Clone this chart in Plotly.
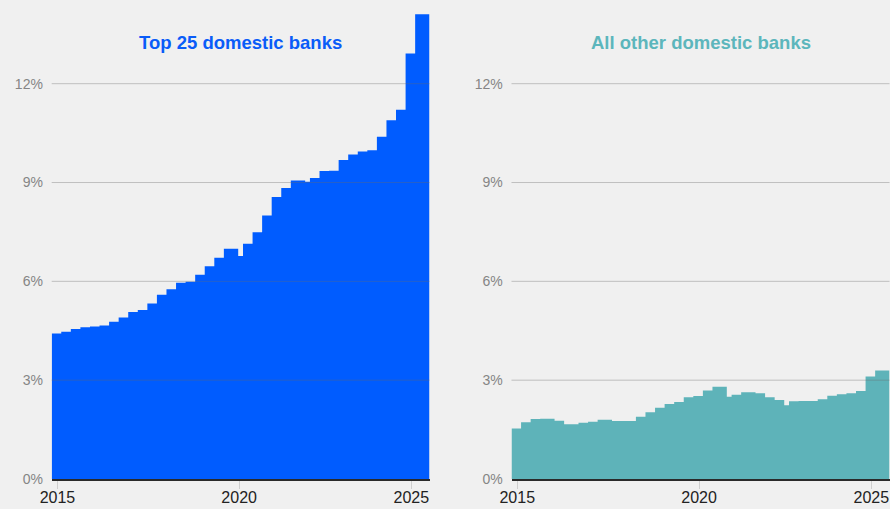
import plotly.graph_objects as go

# Step positions are in quarterly periods from the start of the series;
# each value holds until the next step begins.
top25_start = [0, 1, 2, 3, 4, 5, 6, 7, 8, 9, 10, 11, 12, 13, 14, 15, 16, 17, 18,
               19.5, 20, 21, 22, 23, 24, 25, 26.5, 27, 28, 29, 30, 31, 32, 33,
               34, 35, 36, 37, 38]
top25_value = [4.42, 4.47, 4.55, 4.61, 4.63, 4.66, 4.77, 4.90, 5.07, 5.13, 5.33,
               5.59, 5.76, 5.96, 5.99, 6.20, 6.46, 6.72, 6.99, 6.77, 7.14, 7.49,
               8.00, 8.56, 8.83, 9.06, 9.02, 9.14, 9.35, 9.36, 9.68, 9.85, 9.94,
               9.98, 10.39, 10.89, 11.21, 12.92, 14.11]

other_start = [0, 1, 2, 3, 4.5, 5.5, 7, 8, 9, 10.5, 13, 14, 15, 16, 17, 18, 19,
               20, 21, 22.5, 23, 24, 25.5, 26.5, 27.5, 28.5, 29, 30, 31, 32, 33,
               34, 35, 36, 37, 38]
other_value = [1.53, 1.72, 1.82, 1.83, 1.77, 1.66, 1.71, 1.74, 1.80, 1.76, 1.89,
               2.03, 2.16, 2.28, 2.34, 2.48, 2.52, 2.69, 2.80, 2.50, 2.56, 2.63,
               2.60, 2.48, 2.40, 2.24, 2.36, 2.37, 2.37, 2.42, 2.53, 2.57, 2.60,
               2.67, 3.11, 3.29]

series_end = 39.5

year_tick_pos = [0.6, 19.6, 37.6]
year_tick_text = ["2015", "2020", "2025"]

pct_ticks = [0, 3, 6, 9, 12]
pct_text = ["0%", "3%", "6%", "9%", "12%"]

panels = [
    ("Top 25 domestic banks", top25_start, top25_value, "#005CFF", "#0A5CF8"),
    ("All other domestic banks", other_start, other_value, "#5EB3B9", "#5CB6BC"),
]

W, H = 890, 509
BG = "#F0F0F0"
FONT = "Liberation Sans, Arial, sans-serif"

Y_MAX = 14.45
PX_PER_PCT = (479 - 83.7) / 12
x_domains = [[51.7 / W, 429.5 / W], [511.5 / W, 889.5 / W]]
y_domain = [(H - 479) / H, min(1.0, (H - 479 + Y_MAX * PX_PER_PCT) / H)]

fig = go.Figure()
shapes = []
annotations = []

for i, (title, xs, ys, fill, title_color) in enumerate(panels):
    n = "" if i == 0 else str(i + 1)
    fig.add_trace(go.Scatter(
        x=list(xs) + [series_end],
        y=list(ys) + [ys[-1]],
        mode="lines",
        line=dict(shape="hv", width=0, color=fill),
        fill="tozeroy",
        fillcolor=fill,
        hoverinfo="skip",
        showlegend=False,
        xaxis="x" + n,
        yaxis="y" + n,
    ))

    fig.update_layout(**{
        "xaxis" + n: dict(
            domain=x_domains[i],
            range=[0, series_end],
            tickvals=year_tick_pos,
            ticktext=year_tick_text,
            ticks="outside",
            ticklen=8,
            tickwidth=1,
            tickcolor="#CFCFCF",
            ticklabelstandoff=-5,
            showline=True,
            linecolor="#2A2A2A",
            linewidth=2,
            showgrid=False,
            zeroline=False,
            tickfont=dict(family=FONT, size=16, color="#222222"),
            anchor="y" + n,
            automargin=False,
            fixedrange=True,
        ),
        "yaxis" + n: dict(
            domain=y_domain,
            range=[0, Y_MAX],
            tickvals=pct_ticks,
            ticktext=pct_text,
            ticks="outside",
            ticklen=5,
            tickcolor="rgba(0,0,0,0)",
            showgrid=False,
            zeroline=False,
            showline=False,
            tickfont=dict(family=FONT, size=14, color="#858585"),
            anchor="x" + n,
            automargin=False,
            fixedrange=True,
        ),
    })

    # horizontal guides drawn over the filled area
    for v in pct_ticks[1:]:
        shapes.append(dict(
            type="line", layer="above",
            xref="x" + n + " domain", yref="y" + n,
            x0=0, x1=1, y0=v, y1=v,
            line=dict(color="rgba(105,105,105,0.36)", width=1),
        ))

    annotations.append(dict(
        text="<b>" + title + "</b>",
        xref="x" + n + " domain", yref="paper",
        x=0.5, y=(H - 43) / H,
        xanchor="center", yanchor="middle",
        showarrow=False,
        font=dict(family=FONT, size=18.5, color=title_color),
    ))

fig.update_layout(
    width=W, height=H,
    margin=dict(l=0, r=0, t=0, b=0, autoexpand=False),
    paper_bgcolor=BG,
    plot_bgcolor=BG,
    shapes=shapes,
    annotations=annotations,
    showlegend=False,
)

fig.write_html("out.html", config={"displayModeBar": False})
